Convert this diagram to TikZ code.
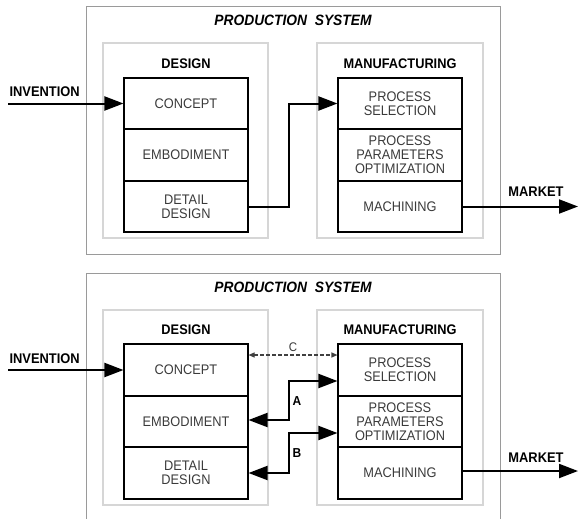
\documentclass[tikz,border=0pt]{standalone}
\usepackage{fontspec}
\setmainfont{Liberation Sans}
\newfontfamily\diagfont[FakeStretch=0.92]{Liberation Sans}
\usetikzlibrary{arrows.meta}
\definecolor{outerline}{HTML}{9A9A9A}
\definecolor{groupline}{HTML}{D6D6D6}
\definecolor{celltext}{HTML}{3A3A3A}
\tikzset{
  outerbox/.style={draw=outerline, line width=1pt},
  groupbox/.style={draw=groupline, line width=1.2pt},
  cell/.style={draw=black, line width=1.1pt, minimum width=124pt, inner sep=0pt,
    text=celltext, align=center, font=\diagfont\fontsize{13.9}{14.2}\selectfont},
  cellA/.style={cell, minimum height=51pt},
  cellB/.style={cell, minimum height=52pt},
  grouplabel/.style={font=\diagfont\fontsize{13.9}{15}\selectfont\bfseries},
  systitle/.style={font=\diagfont\fontsize{15}{16}\selectfont\bfseries\itshape},
  flowlabel/.style={font=\diagfont\fontsize{14}{15}\selectfont\bfseries},
  tiplabel/.style={font=\diagfont\fontsize{13}{14}\selectfont\bfseries},
  bigtip/.style={-{Triangle[length=19pt,width=14pt]}},
  flow/.style={line width=2pt, bigtip},
  bothflow/.style={line width=2pt, {Triangle[length=19pt,width=14pt]}-{Triangle[length=19pt,width=14pt]}},
  linkdash/.style={draw=black!75, line width=1.1pt, dash pattern=on 3.5pt off 2.5pt,
    {Triangle[length=6pt,width=5pt]}-{Triangle[length=6pt,width=5pt]}},
}
\begin{document}
\begin{tikzpicture}[x=1pt, y=-1pt]
\useasboundingbox (0,0) rectangle (578,519);

% ---------------- upper system ----------------
\draw[outerbox] (86,7) rectangle (500,254);
\node[systitle] (t1) at (293,20) {PRODUCTION\ \ SYSTEM};
\draw[groupbox] (103,43) rectangle (268,238);
\draw[groupbox] (317,43) rectangle (483,238);
\node[grouplabel] (dl1) at (186,64) {DESIGN};
\node[grouplabel] (ml1) at (400,64) {MANUFACTURING};

\node[cellA] (c1) at (186,103.5) {CONCEPT};
\node[cellB] (e1) at (186,155) {EMBODIMENT};
\node[cellA] (d1) at (186,206.5) {DETAIL\\DESIGN};
\node[cellA] (p1) at (400,103.5) {PROCESS\\SELECTION};
\node[cellB] (o1) at (400,155) {PROCESS\\PARAMETERS\\OPTIMIZATION};
\node[cellA] (m1) at (400,206.5) {MACHINING};

\coordinate (in1) at (8,103.5);
\coordinate (out1) at (578,206.5);
\node[flowlabel, anchor=west] (inv1) at (6,92) {INVENTION};
\node[flowlabel] (mk1) at (536,192) {MARKET};

\draw[flow] (in1) -- (c1.west);
\draw[flow] (d1.east) -| (289,120) |- (p1.west);
\draw[flow] (m1.east) -- (out1);

% ---------------- lower system ----------------
\draw[outerbox] (86,530) -- (86,273) -- (500,273) -- (500,530);
\node[systitle] (t2) at (293,287) {PRODUCTION\ \ SYSTEM};
\draw[groupbox] (103,310) rectangle (268,505);
\draw[groupbox] (317,310) rectangle (483,505);
\node[grouplabel] (dl2) at (186,330) {DESIGN};
\node[grouplabel] (ml2) at (400,330) {MANUFACTURING};

\node[cellB] (c2) at (186,370) {CONCEPT};
\node[cellA] (e2) at (186,421.5) {EMBODIMENT};
\node[cellB] (d2) at (186,473) {DETAIL\\DESIGN};
\node[cellB] (p2) at (400,370) {PROCESS\\SELECTION};
\node[cellA] (o2) at (400,421.5) {PROCESS\\PARAMETERS\\OPTIMIZATION};
\node[cellB] (m2) at (400,473) {MACHINING};

\coordinate (in2) at (8,370);
\coordinate (out2) at (578,471);
\node[flowlabel, anchor=west] (inv2) at (6,359) {INVENTION};
\node[flowlabel] (mk2) at (536,458) {MARKET};

\draw[flow] (in2) -- (c2.west);
\draw[flow] (m2.east |- out2) -- (out2);

% feedback links between design and manufacturing
\draw[linkdash] ([yshift=15pt]c2.east) -- ([yshift=15pt]p2.west)
  node[midway, above=-0.5pt, font=\diagfont\fontsize{12.5}{13}\selectfont, text=celltext] (lc) {C};
\draw[bothflow] ([yshift=1.5pt]e2.east) -| (289,401) |- ([yshift=-11pt]p2.west);
\draw[bothflow] (d2.east) -| (289,453) |- ([yshift=-11.5pt]o2.west);
\node[tiplabel] (la) at (297,401) {A};
\node[tiplabel] (lb) at (297,453) {B};
\end{tikzpicture}
\end{document}
